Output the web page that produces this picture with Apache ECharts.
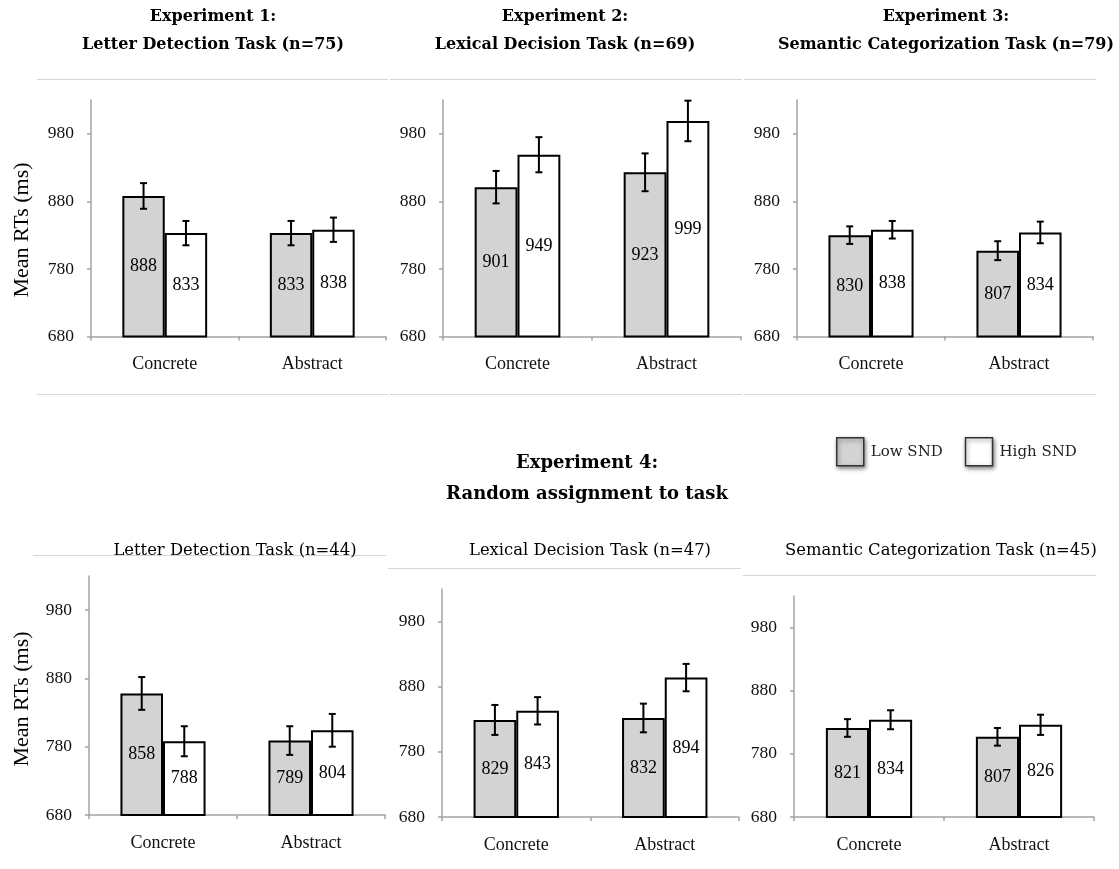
<!DOCTYPE html>
<html>
<head>
<meta charset="utf-8">
<title>Mean RTs by word type and SND</title>
<script src="https://cdn.jsdelivr.net/npm/echarts@6/dist/echarts.min.js"></script>
<style>
  html, body { margin: 0; padding: 0; background: #fff; }
  #chart { width: 1119px; height: 869px; }
</style>
</head>
<body>
<div id="chart"></div>
<script>
// Word concreteness conditions on each panel's x axis
const categories = ['Concrete', 'Abstract'];
// Labelled y-axis values (ms)
const yTicks = [680, 780, 880, 980];
const yMin = 680;
const yMax = 1030;
const seriesNames = ['Low SND', 'High SND'];

// Panel headings
const topHeadings = [
  ['Experiment 1:', 'Letter Detection Task (n=75)'],
  ['Experiment 2:', 'Lexical Decision Task (n=69)'],
  ['Experiment 3:', 'Semantic Categorization Task (n=79)']
];
const exp4Heading = ['Experiment 4:', 'Random assignment to task'];
const exp4Tasks = [
  'Letter Detection Task (n=44)',
  'Lexical Decision Task (n=47)',
  'Semantic Categorization Task (n=45)'
];
const yAxisTitle = 'Mean RTs (ms)';

// Mean RTs per panel: [Concrete, Abstract]
// Panels: Exp1, Exp2, Exp3, Exp4-LDT, Exp4-LexDec, Exp4-SemCat
const lowMeans  = [[888, 833], [901, 923], [830, 807], [858, 789], [829, 832], [821, 807]];
const highMeans = [[833, 838], [949, 999], [838, 834], [788, 804], [843, 894], [834, 826]];
// Error bar half-widths (ms)
const lowErr  = [[19, 18], [24, 28], [13, 14], [24, 21], [23, 22], [14, 14]];
const highErr = [[18, 18], [26, 30], [13, 16], [22, 24], [21, 21], [15, 16]];

// Plot-area boxes for the six panels
const boxes = [
  { left: 91,  top: 100, width: 295, height: 236.5 },
  { left: 443, top: 100, width: 298, height: 236.5 },
  { left: 797, top: 100, width: 296, height: 236.5 },
  { left: 89,  top: 576, width: 296, height: 239 },
  { left: 442, top: 589, width: 297, height: 228 },
  { left: 794, top: 596, width: 300, height: 221 }
];

const SERIF = 'Liberation Serif';
const HEAD = 'DejaVu Serif';
const AXIS_GRAY = '#a3a3a3';
const RULE_GRAY = '#d6d6d6';
const CAT_GAP = 0.425;

function errorRenderer(side) {
  return function (params, api) {
    const cat = api.value(0);
    const mean = api.value(1);
    const err = api.value(2);
    const band = api.size([1, 0])[0];
    const shift = side * band * (1 - CAT_GAP) / 4;
    const hi = api.coord([cat, mean + err]);
    const lo = api.coord([cat, mean - err]);
    const x = hi[0] + shift;
    const cap = 3.5;
    const st = { stroke: '#000', lineWidth: 2 };
    return {
      type: 'group',
      children: [
        { type: 'line', shape: { x1: x, y1: hi[1], x2: x, y2: lo[1] }, style: st },
        { type: 'line', shape: { x1: x - cap, y1: hi[1], x2: x + cap, y2: hi[1] }, style: st },
        { type: 'line', shape: { x1: x - cap, y1: lo[1], x2: x + cap, y2: lo[1] }, style: st }
      ]
    };
  };
}

const grid = [], xAxis = [], yAxis = [], series = [];
boxes.forEach(function (b, p) {
  grid.push(Object.assign({ containLabel: false, outerBoundsMode: 'none' }, b));
  xAxis.push({
    type: 'category',
    gridIndex: p,
    data: categories,
    axisLine: { show: true, lineStyle: { color: AXIS_GRAY, width: 1.5 } },
    axisTick: { show: true, length: 4, lineStyle: { color: AXIS_GRAY, width: 1.5 } },
    axisLabel: { fontFamily: SERIF, fontSize: 18, color: '#111', margin: 19 },
    splitLine: { show: false }
  });
  yAxis.push({
    type: 'value',
    gridIndex: p,
    min: yMin,
    max: yMax,
    interval: 100,
    axisLine: { show: true, lineStyle: { color: AXIS_GRAY, width: 1.5 } },
    axisTick: { show: true, length: 4, customValues: yTicks, lineStyle: { color: AXIS_GRAY, width: 1.5 } },
    axisLabel: {
      customValues: yTicks,
      fontFamily: SERIF, fontSize: 17.5, color: '#111', margin: 17,
      formatter: function (v) { return yTicks.indexOf(v) >= 0 ? String(v) : ''; }
    },
    splitLine: { show: false }
  });

  const label = {
    show: true, position: 'inside', fontFamily: SERIF, fontSize: 18,
    color: '#000', textBorderWidth: 0
  };
  series.push({
    name: seriesNames[0], type: 'bar', xAxisIndex: p, yAxisIndex: p,
    data: lowMeans[p], barGap: '0%', barCategoryGap: (CAT_GAP * 100) + '%',
    itemStyle: { color: '#d3d3d3', borderColor: '#000', borderWidth: 2 },
    label: label, emphasis: { disabled: true }, z: 2
  });
  series.push({
    name: seriesNames[1], type: 'bar', xAxisIndex: p, yAxisIndex: p,
    data: highMeans[p], barGap: '0%', barCategoryGap: (CAT_GAP * 100) + '%',
    itemStyle: { color: '#ffffff', borderColor: '#000', borderWidth: 2 },
    label: label, emphasis: { disabled: true }, z: 2
  });
  series.push({
    name: 'low-err-' + p, type: 'custom', xAxisIndex: p, yAxisIndex: p,
    renderItem: errorRenderer(-1), encode: { x: 0, y: 1 },
    data: lowMeans[p].map(function (m, i) { return [i, m, lowErr[p][i]]; }),
    z: 5, silent: true
  });
  series.push({
    name: 'high-err-' + p, type: 'custom', xAxisIndex: p, yAxisIndex: p,
    renderItem: errorRenderer(1), encode: { x: 0, y: 1 },
    data: highMeans[p].map(function (m, i) { return [i, m, highErr[p][i]]; }),
    z: 5, silent: true
  });
});

function rule(x1, x2, y) {
  return { type: 'line', silent: true, z: 0,
    shape: { x1: x1, y1: y, x2: x2, y2: y },
    style: { stroke: RULE_GRAY, lineWidth: 1 } };
}
function text(str, x, y, size, weight, family, rot) {
  const el = { type: 'text', silent: true, z: 10, x: x, y: y,
    style: { text: str, fontFamily: family, fontSize: size, fontWeight: weight,
      fill: '#000', textAlign: 'center', textVerticalAlign: 'middle' } };
  if (rot) { el.rotation = rot; }
  return el;
}

const headX = [213, 565, 946];
const taskX = [235, 590, 941];
const graphic = [
  // frame rules, upper row
  rule(37, 388, 79.5), rule(390, 742, 79.5), rule(744, 1096, 79.5),
  rule(37, 388, 394.5), rule(390, 742, 394.5), rule(744, 1096, 394.5),
  // frame rules, lower row
  rule(33, 386, 555.5), rule(388, 741, 568.5), rule(743, 1096, 575.5)
];
topHeadings.forEach(function (h, i) {
  graphic.push(text(h[0], headX[i], 17, 16, 'bold', HEAD));
  graphic.push(text(h[1], headX[i], 45, 16, 'bold', HEAD));
});
graphic.push(text(exp4Heading[0], 587, 463, 18, 'bold', HEAD));
graphic.push(text(exp4Heading[1], 587, 494, 18, 'bold', HEAD));
exp4Tasks.forEach(function (t, i) {
  graphic.push(text(t, taskX[i], 551, 16.4, 'normal', HEAD));
});
graphic.push(text(yAxisTitle, 22, 230, 22, 'normal', SERIF, Math.PI / 2));
graphic.push(text(yAxisTitle, 22, 699, 22, 'normal', SERIF, Math.PI / 2));

const option = {
  backgroundColor: '#ffffff',
  animation: false,
  legend: {
    data: seriesNames,
    left: 836, top: 437,
    padding: 0,
    icon: 'rect',
    itemWidth: 27, itemHeight: 28, itemGap: 22,
    selectedMode: false,
    itemStyle: {
      borderColor: '#333', borderWidth: 1.5,
      shadowBlur: 4, shadowColor: 'rgba(0,0,0,0.45)', shadowOffsetX: 1, shadowOffsetY: 2
    },
    textStyle: { fontFamily: HEAD, fontSize: 15, color: '#222', padding: [0, 0, 0, 2] }
  },
  grid: grid,
  xAxis: xAxis,
  yAxis: yAxis,
  series: series,
  graphic: graphic
};

const chart = echarts.init(document.getElementById('chart'), null, { renderer: 'canvas' });
chart.setOption(option);
</script>
</body>
</html>
